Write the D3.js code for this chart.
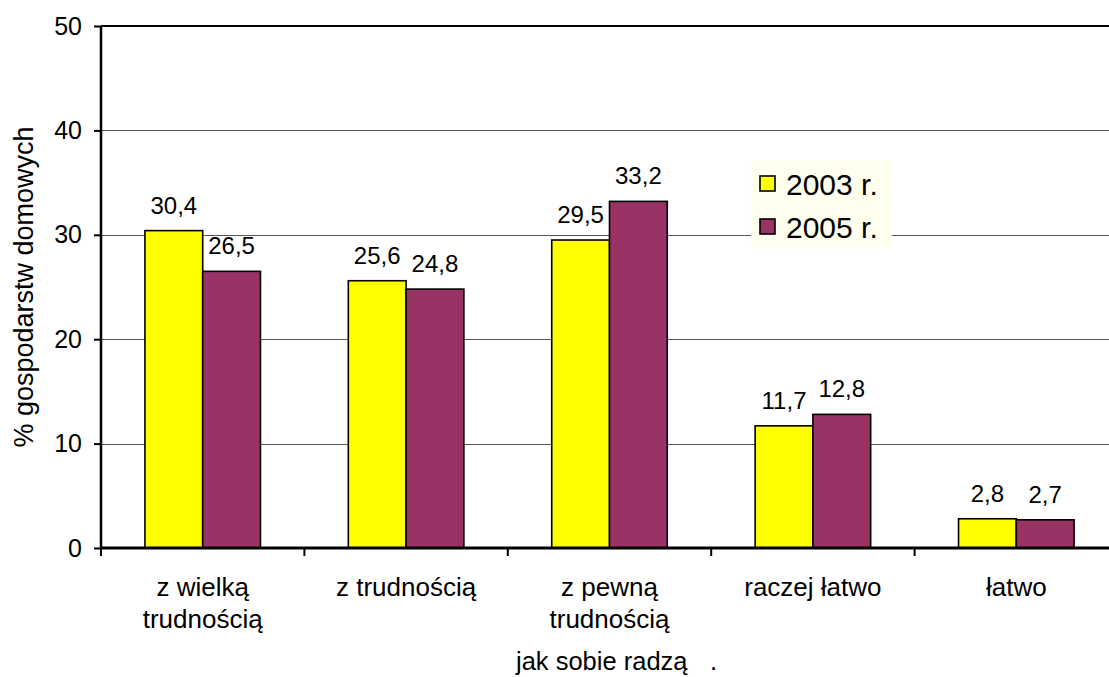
<!DOCTYPE html>
<html>
<head>
<meta charset="utf-8">
<script src="https://cdn.jsdelivr.net/npm/d3@7"></script>
<style>
  html, body { margin: 0; padding: 0; background: #fff; }
  svg { display: block; font-family: "Liberation Sans", Arial, sans-serif; }
</style>
</head>
<body>
<svg id="chart" width="1109" height="677"></svg>
<script>
// Household coping categories (each label split into its display lines)
const categoryLines = [
  ["z wielką", "trudnością"],
  ["z trudnością"],
  ["z pewną", "trudnością"],
  ["raczej łatwo"],
  ["łatwo"]
];
const categories = categoryLines.map(l => l.join(" "));
const seriesNames = ["2003 r.", "2005 r."];
const values2003 = [30.4, 25.6, 29.5, 11.7, 2.8];
const values2005 = [26.5, 24.8, 33.2, 12.8, 2.7];
const seriesColors = ["#ffff00", "#993366"];
const yTicks = [0, 10, 20, 30, 40, 50];
const yTitle = "% gospodarstw domowych";
const xTitle = "jak sobie radzą";

const svg = d3.select("#chart");
const margin = { left: 101, top: 26, right: 1118, bottom: 548 };

const x = d3.scaleBand().domain(categories).range([margin.left, margin.right]).padding(0);
const bw = x.bandwidth();
const x1 = d3.scaleBand().domain(seriesNames).range([bw * 0.216, bw * 0.784]).padding(0);
const y = d3.scaleLinear().domain([0, 50]).range([margin.bottom, margin.top]);

const plLocale = d3.formatLocale({ decimal: ",", thousands: " ", grouping: [3], currency: ["", " zł"] });
const fmt = plLocale.format(".1f");

// gridlines
const grid = svg.append("g")
  .attr("transform", `translate(${margin.left},0)`)
  .call(d3.axisLeft(y).tickValues(yTicks.filter(v => v > 0 && v < 50)).tickSize(-(margin.right - margin.left)).tickFormat(""));
grid.select(".domain").remove();
grid.selectAll("line").attr("stroke", "#555").attr("stroke-width", 1).attr("shape-rendering", "crispEdges");

// top border of plot area
svg.append("line")
  .attr("x1", margin.left).attr("x2", margin.right)
  .attr("y1", y(50)).attr("y2", y(50))
  .attr("stroke", "#000").attr("stroke-width", 2);

// bars
const data = categories.map((c, i) => ({ c, vals: [values2003[i], values2005[i]] }));
const groups = svg.append("g").selectAll("g").data(data).join("g")
  .attr("transform", d => `translate(${x(d.c)},0)`);

groups.selectAll("rect").data(d => d.vals.map((v, k) => ({ v, k })))
  .join("rect")
  .attr("x", d => x1(seriesNames[d.k]))
  .attr("y", d => y(d.v))
  .attr("width", x1.bandwidth())
  .attr("height", d => y(0) - y(d.v))
  .attr("fill", d => seriesColors[d.k])
  .attr("stroke", "#000")
  .attr("stroke-width", 1.6);

groups.selectAll("text.val").data(d => d.vals.map((v, k) => ({ v, k })))
  .join("text")
  .attr("class", "val")
  .attr("x", d => x1(seriesNames[d.k]) + x1.bandwidth() / 2)
  .attr("y", d => y(d.v) - 17)
  .attr("text-anchor", "middle")
  .attr("font-size", 24)
  .attr("fill", "#000")
  .text(d => fmt(d.v));

// y axis
const yAxis = svg.append("g")
  .attr("transform", `translate(${margin.left},0)`)
  .call(d3.axisLeft(y).tickValues(yTicks).tickSize(7).tickPadding(12).tickFormat(d3.format("d")));
yAxis.select(".domain").attr("stroke", "#000").attr("stroke-width", 2.5).attr("d", `M0,${y(50)}V${y(0)}`);
yAxis.selectAll(".tick line").attr("stroke", "#000").attr("stroke-width", 2);
yAxis.selectAll(".tick text").attr("font-size", 25).attr("fill", "#000").attr("font-family", "Liberation Sans, Arial, sans-serif");

// x axis
const xAxis = svg.append("g");
xAxis.append("line")
  .attr("x1", margin.left).attr("x2", margin.right)
  .attr("y1", y(0)).attr("y2", y(0))
  .attr("stroke", "#000").attr("stroke-width", 3);
xAxis.selectAll("line.tick").data(categories.map(c => x(c)).concat([margin.right]))
  .join("line")
  .attr("class", "tick")
  .attr("x1", d => d).attr("x2", d => d)
  .attr("y1", y(0)).attr("y2", y(0) + 8)
  .attr("stroke", "#000").attr("stroke-width", 2);

const catLabels = xAxis.selectAll("text.cat").data(categoryLines.map((lines, i) => ({ lines, c: categories[i] })))
  .join("text")
  .attr("class", "cat")
  .attr("text-anchor", "middle")
  .attr("font-size", 26)
  .attr("fill", "#000");
catLabels.selectAll("tspan").data(d => d.lines.map(l => ({ l, c: d.c })))
  .join("tspan")
  .attr("x", d => x(d.c) + bw / 2)
  .attr("y", (d, i) => 596 + i * 32)
  .text(d => d.l);

// axis titles
svg.append("text")
  .attr("transform", `translate(33,${(y(50) + y(0)) / 2}) rotate(-90)`)
  .attr("text-anchor", "middle")
  .attr("font-size", 27)
  .attr("fill", "#000")
  .text(yTitle);

svg.append("text")
  .attr("x", 516)
  .attr("y", 670)
  .attr("font-size", 25.5)
  .attr("fill", "#000")
  .text(xTitle);
svg.append("text")
  .attr("x", 710)
  .attr("y", 670)
  .attr("font-size", 25.5)
  .attr("fill", "#000")
  .text(".");

// legend
const legend = svg.append("g").attr("transform", "translate(751,160)");
legend.append("rect").attr("width", 141).attr("height", 88).attr("fill", "#ffffee");
const li = legend.selectAll("g").data(seriesNames).join("g")
  .attr("transform", (d, i) => `translate(0,${i * 43})`);
li.append("rect")
  .attr("x", 9).attr("y", 16).attr("width", 15).attr("height", 15)
  .attr("fill", (d, i) => seriesColors[i])
  .attr("stroke", "#000").attr("stroke-width", 1.6);
li.append("text")
  .attr("x", 35).attr("y", 35)
  .attr("font-size", 30)
  .attr("fill", "#000")
  .text(d => d);
</script>
</body>
</html>
